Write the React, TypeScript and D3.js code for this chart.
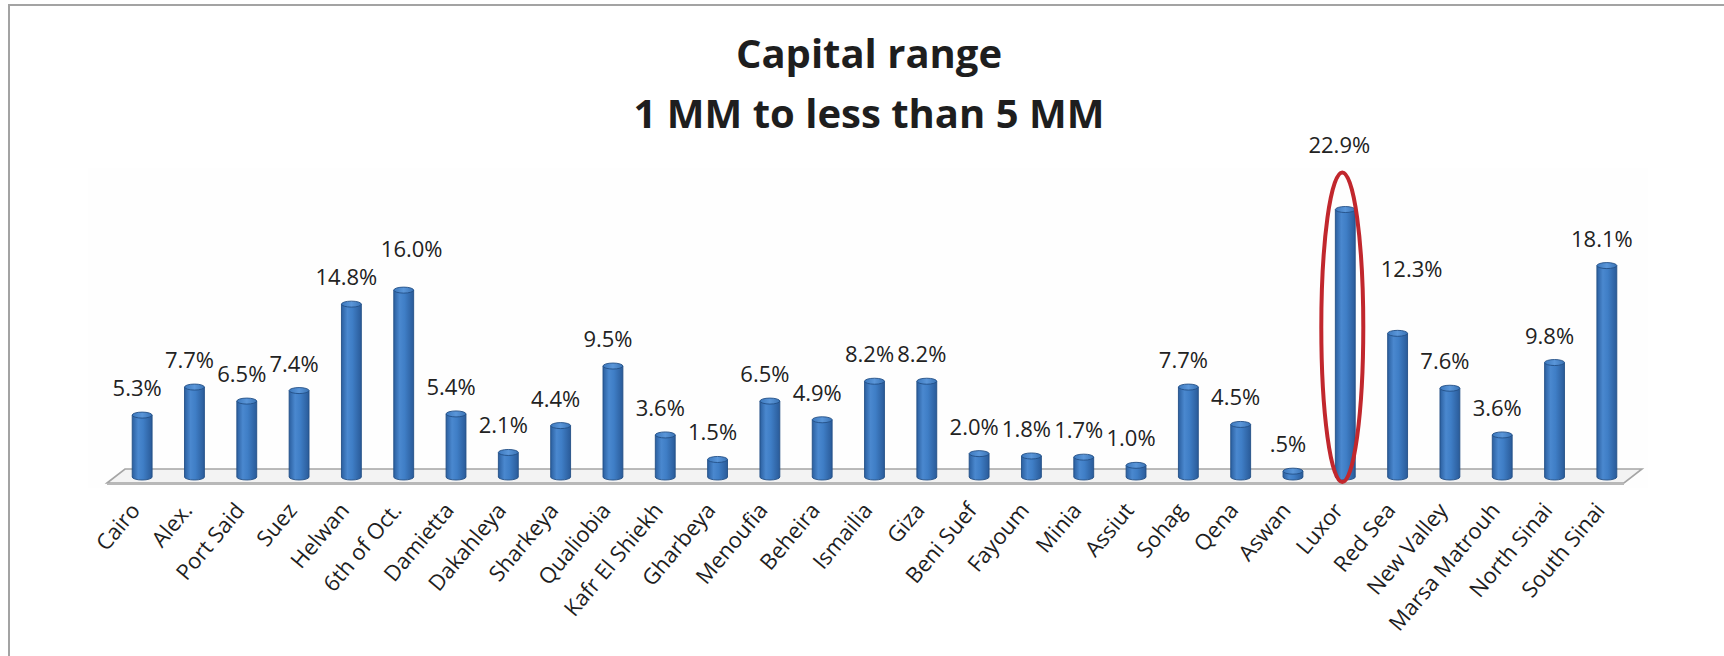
import * as d3 from 'd3';

const categories = [
  'Cairo', 'Alex.', 'Port Said', 'Suez', 'Helwan', '6th of Oct.', 'Damietta', 'Dakahleya',
  'Sharkeya', 'Qualiobia', 'Kafr El Shiekh', 'Gharbeya', 'Menoufia', 'Beheira', 'Ismailia',
  'Giza', 'Beni Suef', 'Fayoum', 'Minia', 'Assiut', 'Sohag', 'Qena', 'Aswan', 'Luxor',
  'Red Sea', 'New Valley', 'Marsa Matrouh', 'North Sinai', 'South Sinai',
];

const shares = [
  5.3, 7.7, 6.5, 7.4, 14.8, 16.0, 5.4, 2.1, 4.4, 9.5, 3.6, 1.5, 6.5, 4.9, 8.2,
  8.2, 2.0, 1.8, 1.7, 1.0, 7.7, 4.5, 0.5, 22.9, 12.3, 7.6, 3.6, 9.8, 18.1,
];

const valueLabels = [
  '5.3%', '7.7%', '6.5%', '7.4%', '14.8%', '16.0%', '5.4%', '2.1%', '4.4%', '9.5%', '3.6%',
  '1.5%', '6.5%', '4.9%', '8.2%', '8.2%', '2.0%', '1.8%', '1.7%', '1.0%', '7.7%', '4.5%',
  '.5%', '22.9%', '12.3%', '7.6%', '3.6%', '9.8%', '18.1%',
];

const titleLines = ['Capital range', '1 MM to less than 5 MM'];

const highlighted = 'Luxor';

// labels the author dragged by hand in the original
const labelNudge: Record<string, { dx: number; dy: number }> = {
  '6th of Oct.': { dx: 13, dy: -14 },
  'Luxor': { dx: -1, dy: -38 },
  'Red Sea': { dx: 19, dy: -37 },
};

const W = 1724;
const H = 656;
const FONT = '"Open Sans", "Liberation Sans", sans-serif';

export default function App() {
  const base = 477;
  const x = d3.scaleBand<string>()
    .domain(categories)
    .range([116, 1633])
    .paddingInner(0.62)
    .paddingOuter(0.31);
  const y = d3.scaleLinear().domain([0, 25]).range([base, base - 292]);

  const bw = x.bandwidth();
  const rx = bw / 2;
  const ry = 3;
  const [r0, r1] = x.range();
  const skew = 9;

  const floor = [
    [r0 - skew, base + 6],
    [r0 + skew, base - 8],
    [r1 + skew, base - 8],
    [r1 - skew, base + 6],
  ];

  const hiIdx = categories.indexOf(highlighted);
  const hiCx = (x(highlighted) ?? 0) + rx - 3;
  const hiTop = y(shares[hiIdx]) - 37;
  const hiBottom = base + 5;

  return (
    <svg width={W} height={H} style={{ position: 'absolute', left: 0, top: 0 }}>
      <defs>
        <linearGradient id="cyl" x1="0" x2="1" y1="0" y2="0">
          <stop offset="0%" stopColor="#2b5f9f" />
          <stop offset="30%" stopColor="#4a88cf" />
          <stop offset="55%" stopColor="#3f7ec6" />
          <stop offset="100%" stopColor="#2a5b99" />
        </linearGradient>
        <linearGradient id="cap" x1="0" x2="1" y1="0" y2="0">
          <stop offset="0%" stopColor="#3c78bd" />
          <stop offset="50%" stopColor="#5a96d9" />
          <stop offset="100%" stopColor="#3a73b5" />
        </linearGradient>
      </defs>

      <rect x={0} y={0} width={W} height={H} fill="#ffffff" />
      <rect x={9} y={5} width={W + 20} height={H + 20} fill="none" stroke="#a3a3a3" strokeWidth={2} />
      <rect x={88} y={168} width={1560} height={320} fill="#fefefe" />

      {titleLines.map((t, i) => (
        <text key={t} x={869} y={68 + i * 60} textAnchor="middle" fontFamily={FONT}
          fontWeight={700} fontSize={40} fill="#1e1e1e">{t}</text>
      ))}

      <polygon points={floor.map(p => p.join(',')).join(' ')} fill="#f3f3f3"
        stroke="#a5a5a5" strokeWidth={1.6} />
      <line x1={floor[0][0]} y1={floor[0][1] + 1} x2={floor[3][0]} y2={floor[3][1] + 1}
        stroke="#b8b8b8" strokeWidth={2} />

      {categories.map((c, i) => {
        const cx = (x(c) ?? 0) + rx;
        const top = y(shares[i]);
        const left = cx - rx;
        const outline = `M${left},${top} L${left},${base} A${rx},${ry} 0 0 0 ${cx + rx},${base} L${cx + rx},${top}`;
        return (
          <g key={c}>
            <rect x={left} y={top} width={bw} height={base - top} fill="url(#cyl)" />
            <ellipse cx={cx} cy={base} rx={rx} ry={ry} fill="url(#cyl)" />
            <path d={outline} fill="none" stroke="#234f86" strokeWidth={0.9} />
            <ellipse cx={cx} cy={top} rx={rx} ry={ry} fill="url(#cap)" stroke="#234f86" strokeWidth={0.9} />
          </g>
        );
      })}

      {categories.map((c, i) => {
        const cx = (x(c) ?? 0) + rx;
        const nudge = labelNudge[c] ?? { dx: 0, dy: 0 };
        return (
          <text key={c} x={cx - 5 + nudge.dx} y={y(shares[i]) - ry - 16 + nudge.dy}
            textAnchor="middle" fontFamily={FONT} fontSize={22} fill="#222">
            {valueLabels[i]}
          </text>
        );
      })}

      {categories.map(c => {
        const ax = (x(c) ?? 0) + rx - 1;
        const ay = 511;
        return (
          <text key={c} x={ax} y={ay} transform={`rotate(-50 ${ax} ${ay})`}
            textAnchor="end" fontFamily={FONT} fontSize={22} fill="#1e1e1e">{c}</text>
        );
      })}

      <ellipse cx={hiCx} cy={(hiTop + hiBottom) / 2} rx={21} ry={(hiBottom - hiTop) / 2}
        fill="none" stroke="#c1272d" strokeWidth={4} />
    </svg>
  );
}
